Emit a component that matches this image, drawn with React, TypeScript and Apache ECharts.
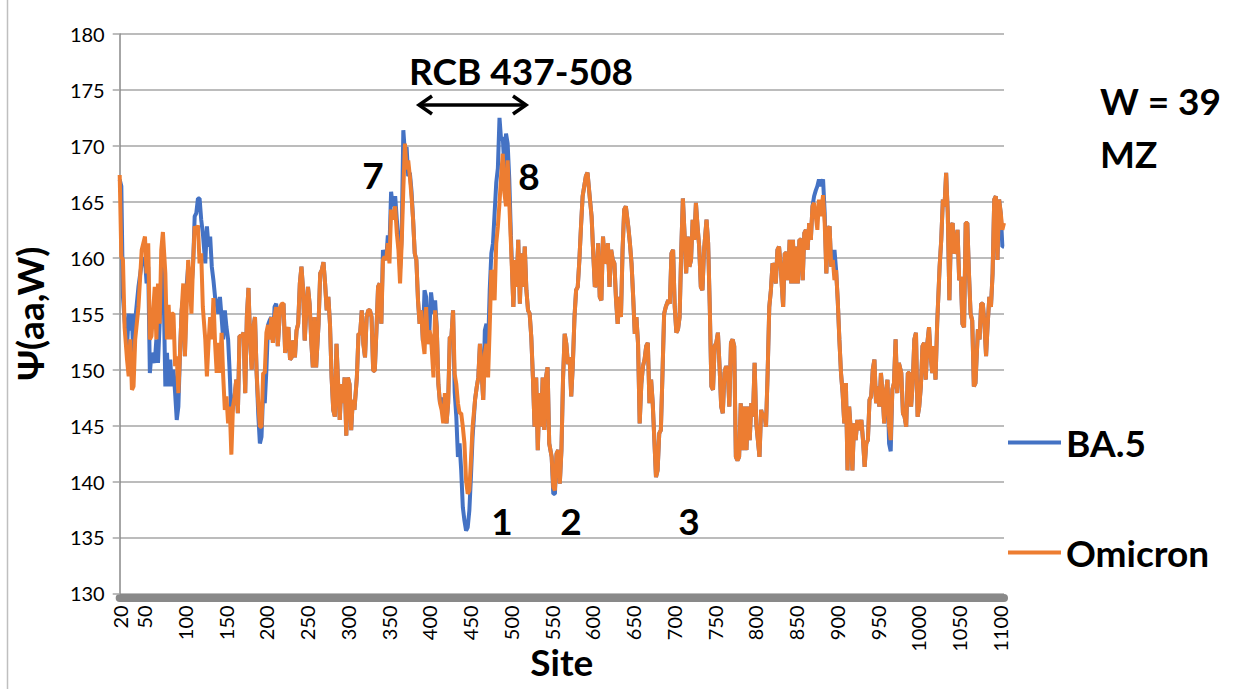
import React, { useEffect, useRef } from 'react';
import * as echarts from 'echarts';

// Site positions (x values), segment by segment
const sitesA = [20,22,24,26,29,31,33,35,37,39,43,47,51,53,55,57,59,
63,65,67,69,71,73,76,78,80,82,84,86,88,90,92,94,96,98,100,102,104,106,108,110,112,114,116,118,120,122,125,127,129,131,133,135,137,139,141,143,145,147,149,151,153,155,157,159,161,163,165,167,170,172,174,176,178,180,182,184,186,188,190,192,194,196,198,200,202,204,206,208,210,212,214,217,219,221,223,225,227,229];
const sitesB = [231,233,235,237,239,241,243,245,247,249,
251,253,255,257,259,261,264,266,268,270,
272,274,276,278,280,282,284,286,288,290,
292,294,296,298,300,302,304,306,308,311,
313,315,317,319,321,323,325,327,329,331,
333,335,337,339,341,343,345,347,349,351,
353,355,358,360,362,364,366,368,370,372,
374,376,378,380,382,384,386,388,390,392,
394,396,398,400,402,405,407,409,411,413,
415,417,419,421,423,425,427,429,431,433,
435,437,439,441,443,445,447];
const sitesC = [449,451,453,456,458,460,462,464,466,468,
470,472,474,476,478,480,482,484,486,488,
490,492,494,496,498,500,503,505,507,509,
511,513,515,517,519,521,523,525,527,529,
531,533,535,537,539,541,543,545,547,550,
552,554,556,558,560,562,564,566,568,570,
572,574,576,578,580,582,584,586,588,590,
592,594,597,599,601,603,605,607,609,611,
613,615,617,619,621,623,625,627,629,631,
633,635,637,639,641,644,646,648,650,652,
654,656,658,660];
const sitesD = [662,664,666,668,670,672,674,676,678,680,
682,684,686,688,690,693,695,697,699,701,
703,705,707,709,711,713,715,717,719,721,
723,725,727,729,731,733,735,737,740,742,
744,746,748,750,752,754,756,758,760,762,
764,766,768,770,772,774,776,778,780,782,
784,787,789,791,793,795,797,799,801,803,
805,807,809,811,813,815,817,819,821,823,
825,827,829,831,834,836,838,840,842,844,
846,848,850,852,854,856,858,860,862,864,
866,868,870,872,874];
const sitesE = [876,878,880,883,885,887,889,891,893,895,
897,899,901,903,905,907,909,911,913,915,
917,919,921,923,925,927,930,932,934,936,
938,940,942,944,946,948,950,952,954,956,
958,960,962,964,966,968,970,972,974,976,
979,981,983,985,987,989,991,993,995,997,
999,1001,1003,1005,1007,1009,1011,1013,1015,1017,
1019,1021,1023,1026,1028,1030,1032,1034,1036,1038,
1040,1042,1044,1046,1048,1050,1052,1054,1056,1058,
1060,1062,1064,1066,1068,1070,1073,1075,1077,1079,
1081,1083,1085,1087,1089,1091,1093,1095,1097,1099,
1101,1103,1105];

// Omicron Ψ(aa,W)
const omicronA = [167.4,160.1,159.8,153.8,150.9,149.4,152.7,148.2,148.5,152.7,155.6,160.7,161.9,158.6,161.3,152.7,153.0,
157.4,152.7,157.7,154.1,160.7,162.3,158.6,152.7,155.8,152.7,
155.0,155.0,150.3,151.2,147.9,151.5,155.3,157.7,151.2,155.3,
159.8,158.0,155.0,159.5,162.8,162.5,162.9,159.5,160.4,155.6,
152.7,149.4,152.4,154.7,152.7,156.4,152.4,149.7,152.4,149.7,
153.3,149.4,146.4,147.6,145.2,146.7,142.4,146.7,147.6,149.1,
146.1,153.0,153.0,153.3,147.9,154.7,157.3,152.7,150.0,153.8,
154.7,149.7,147.0,144.9,144.9,149.7,149.7,153.3,154.0,152.7,
154.7,152.4,154.7,155.6,152.1,155.6,155.9,155.9,151.5,153.3,
153.8,150.9];
const omicronB = [151.1,152.6,151.1,153.5,154.1,157.7,159.2,157.1,152.6,155.3,
157.4,155.9,152.6,150.2,154.7,150.2,154.1,158.6,158.9,159.6,
157.7,155.3,156.5,154.1,149.3,146.4,145.8,152.3,148.7,145.5,
148.7,147.0,149.3,144.1,149.3,148.7,144.6,147.3,146.4,149.3,
153.2,153.2,155.3,152.3,151.1,154.7,155.3,155.3,154.7,149.9,
149.9,153.5,157.4,157.7,154.1,159.8,160.1,159.8,161.3,159.5,
164.3,163.4,164.6,162.2,160.7,157.7,161.3,166.1,170.2,167.9,
168.7,167.3,165.5,163.4,160.4,159.8,156.2,154.1,155.3,152.6,
151.4,155.6,152.3,153.5,152.9,149.3,155.3,153.8,148.7,147.0,
146.4,145.2,147.9,145.2,147.0,152.9,152.9,155.3,149.6,148.7,
147.0,146.1,146.1,144.9,143.4,140.1,138.9];
const omicronC = [139.2,141.9,144.9,147.3,148.4,149.3,152.3,149.9,147.3,151.4,
152.3,149.3,153.8,158.9,158.3,156.2,161.3,162.8,164.9,167.3,
169.3,165.8,164.6,168.7,164.9,161.3,155.6,159.8,157.4,161.6,
155.9,160.4,157.4,161.0,157.1,155.3,155.0,152.9,149.3,144.9,
149.3,142.8,147.9,144.9,149.3,144.6,149.3,150.2,143.4,142.2,
139.5,139.2,142.5,142.8,139.8,142.8,149.3,153.2,152.3,150.5,
151.1,147.6,150.5,154.7,157.1,157.4,159.8,162.8,165.5,166.4,
167.3,167.6,165.2,163.7,160.4,157.4,157.7,161.3,156.5,156.2,
161.9,159.5,159.8,161.3,157.4,160.7,159.8,159.5,156.2,154.1,
156.5,154.7,160.7,164.3,164.6,162.8,161.3,159.5,156.5,153.2,
154.7,152.3,145.2,148.7];
const omicronD = [150.3,150.9,152.1,152.4,147.0,149.1,147.0,143.7,140.4,141.0,
144.3,144.6,149.7,155.0,155.6,156.2,155.9,160.4,160.7,155.6,
153.3,153.6,154.7,160.7,165.3,162.2,158.6,161.9,159.2,159.8,
163.4,161.6,164.9,162.8,161.0,157.4,157.1,160.7,163.4,161.3,
155.6,148.5,148.2,152.1,152.4,153.3,150.3,146.7,146.1,149.7,
150.3,150.0,146.7,152.4,152.7,152.1,142.2,141.9,142.2,147.0,
142.8,146.7,142.8,146.7,143.7,147.0,145.8,150.6,145.2,143.7,
142.2,146.4,145.8,146.1,144.9,149.7,155.6,157.1,159.5,159.2,
157.7,160.7,161.0,159.2,155.6,160.4,160.4,158.0,161.6,157.7,
161.6,157.7,161.0,157.7,161.6,161.6,158.0,162.2,162.5,160.7,
163.1,161.6,164.6,164.9,163.7];
const omicronE = [162.5,165.2,163.7,165.6,163.1,158.6,162.5,162.8,159.2,159.8,
158.0,158.9,156.2,152.7,149.7,147.9,145.2,148.8,141.0,146.7,
144.6,141.0,145.2,143.7,145.5,144.6,145.5,143.7,141.3,143.4,
143.7,147.3,147.6,150.0,150.9,147.0,148.5,146.7,149.7,147.9,
145.2,147.9,149.1,144.9,143.7,148.2,148.8,152.7,147.9,150.6,
149.7,146.1,145.8,144.9,149.7,149.7,146.7,148.8,152.7,153.3,
145.8,146.7,148.5,152.1,152.4,149.1,152.4,153.8,151.2,149.7,
152.1,149.1,154.1,159.2,161.6,165.2,164.6,167.6,164.0,156.2,
162.8,163.1,160.4,160.7,162.5,158.0,158.3,154.1,153.8,163.1,
163.1,158.6,155.0,154.4,148.5,148.8,153.6,152.7,155.9,155.9,
154.1,151.2,154.1,156.5,155.6,158.6,165.2,165.5,159.8,165.2,
164.0,162.5,163.1];

// BA.5 Ψ(aa,W)
const ba5A = [167.0,166.4,156.5,154.4,152.0,155.0,153.5,155.0,150.3,154.4,157.4,159.5,160.0,157.7,159.2,149.7,151.5,
150.6,152.7,150.6,154.1,158.0,161.0,148.5,151.5,148.5,150.9,
148.5,150.0,147.9,145.5,146.7,151.5,155.3,156.5,151.2,157.4,
159.2,158.6,157.4,159.2,163.7,164.0,165.3,165.3,163.4,162.2,
159.5,162.8,161.0,161.9,159.2,158.0,156.5,155.9,155.0,156.5,
154.7,152.7,155.3,153.8,152.7,149.7,145.8,146.7,147.6,149.1,
146.1,153.0,153.0,153.3,147.9,154.7,157.3,152.7,150.0,153.8,
154.7,149.7,146.0,143.4,144.0,148.0,147.0,150.0,154.0,154.4,
154.7,152.4,155.6,155.9,152.1,155.6,155.3,155.9,151.5,152.4,
153.8,150.9];
const ba5B = [151.1,152.6,151.1,153.5,154.1,157.7,159.2,157.1,152.6,155.3,
157.4,155.9,152.6,150.2,154.7,150.2,154.1,158.6,158.9,159.6,
157.7,155.3,156.5,154.1,149.3,146.4,145.8,152.3,148.7,145.5,
148.7,147.0,149.3,144.1,149.3,148.7,144.6,147.3,146.4,149.3,
153.2,153.2,155.3,152.3,151.1,154.7,155.3,155.3,154.7,149.9,
149.9,153.5,157.4,157.7,154.1,160.7,160.1,159.8,162.0,161.0,
165.9,164.6,165.5,163.4,161.6,159.0,161.9,171.4,169.3,169.9,
167.3,167.6,166.0,163.4,160.4,159.8,156.2,154.1,155.3,152.6,
157.1,156.5,152.3,153.5,156.9,155.0,156.2,153.8,148.7,147.0,
147.5,146.5,147.0,145.2,147.0,152.9,152.9,155.3,148.0,145.8,
142.2,143.4,141.0,137.7,136.5,135.6,135.9];
const ba5C = [137.4,140.5,144.0,147.3,148.4,149.3,152.3,149.9,147.3,153.5,
154.1,152.0,157.1,160.4,161.3,164.0,166.7,168.0,172.5,170.5,
170.8,168.0,171.1,170.2,167.0,162.0,155.6,159.8,157.4,161.6,
155.9,160.4,157.4,161.0,157.1,155.3,155.0,152.9,149.3,144.9,
149.3,142.8,147.9,144.9,149.3,144.6,149.3,150.2,143.4,142.2,
138.9,138.9,142.5,142.8,139.8,142.8,149.3,153.2,152.3,150.5,
151.1,147.6,150.5,154.7,157.1,157.4,159.8,162.8,165.5,166.4,
167.3,167.6,165.2,163.7,160.4,157.4,157.7,161.3,156.5,156.2,
161.9,159.5,159.8,161.3,157.4,160.7,159.8,159.5,156.2,154.1,
156.5,154.7,160.7,164.3,164.6,162.8,161.3,159.5,156.5,153.2,
154.7,152.3,145.2,148.7];
const ba5D = [150.3,150.9,152.1,152.4,147.0,149.1,147.0,143.7,140.4,141.0,
144.3,144.6,149.7,155.0,155.6,156.2,155.9,160.4,160.7,155.6,
153.3,153.6,154.7,160.7,165.3,162.2,158.6,161.9,159.2,159.8,
163.4,161.6,164.9,162.8,161.0,157.4,157.1,160.7,163.4,161.3,
155.6,148.5,148.2,152.1,152.4,153.3,150.3,146.7,146.1,149.7,
150.3,150.0,146.7,152.4,152.7,152.1,142.2,141.9,142.2,147.0,
142.8,146.7,142.8,146.7,143.7,147.0,145.8,150.6,145.2,143.7,
142.2,146.4,145.8,146.1,144.9,149.7,155.6,157.1,159.5,159.2,
157.7,160.7,161.0,159.2,155.6,160.4,160.4,158.0,161.6,157.7,
161.6,157.7,161.0,157.7,161.6,161.6,158.0,162.2,162.5,160.7,
163.1,161.6,164.6,165.5,166.0];
const ba5E = [166.4,167.0,166.4,167.0,164.0,158.6,162.5,162.8,159.2,159.8,
160.7,158.9,156.2,152.7,149.7,147.9,145.2,148.8,141.0,146.7,
144.6,141.0,145.2,143.7,145.5,144.6,145.5,143.7,141.3,143.4,
143.7,147.3,147.6,150.0,150.9,147.0,148.5,146.7,149.7,147.9,
145.2,147.9,149.1,143.4,142.7,148.2,148.8,152.7,147.9,150.6,
149.7,146.1,145.8,144.9,149.7,149.7,146.7,148.8,152.7,153.3,
145.8,146.7,148.5,152.1,152.4,149.1,152.4,153.8,151.2,149.7,
152.1,149.1,154.1,159.2,161.6,165.2,164.6,167.6,164.0,156.2,
162.8,163.1,160.4,160.7,162.5,158.0,158.3,154.1,153.8,163.1,
163.1,158.6,155.0,154.4,148.5,148.8,153.6,152.7,155.9,155.9,
154.1,151.2,154.1,156.5,155.6,158.6,165.2,165.5,159.8,165.2,
164.0,161.0,161.0];

const xTickLabels = [20,50,100,150,200,250,300,350,400,450,500,550,600,650,700,750,800,850,900,950,1000,1050,1100];
const seriesNames = ['BA.5', 'Omicron'];
const annotations = [
  { text: 'RCB 437-508', x: 521, y: 70 },
  { text: '7', x: 373, y: 174 },
  { text: '8', x: 529, y: 175 },
  { text: '1', x: 502, y: 520 },
  { text: '2', x: 571, y: 520 },
  { text: '3', x: 689, y: 520 },
];

const FONT = 'Lato, "Open Sans", sans-serif';

export default function App() {
  const ref = useRef<HTMLDivElement>(null);
  useEffect(() => {
    if (!ref.current) return;
    const chart = echarts.init(ref.current, undefined, { renderer: 'svg' });
    const sites = [...sitesA, ...sitesB, ...sitesC, ...sitesD, ...sitesE];
    const omicron = [...omicronA, ...omicronB, ...omicronC, ...omicronD, ...omicronE];
    const ba5 = [...ba5A, ...ba5B, ...ba5C, ...ba5D, ...ba5E];
    const ba5Data = sites.map((s, i) => [s, ba5[i]]);
    const omiData = sites.map((s, i) => [s, omicron[i]]);
    const boldText = { fontFamily: FONT, fontWeight: 'bold', fontSize: 37, color: '#000' };
    const legendBase = {
      orient: 'vertical',
      icon: 'rect',
      itemWidth: 53,
      itemHeight: 4,
      itemGap: 0,
      selectedMode: false,
      textStyle: { fontFamily: FONT, fontWeight: 'bold', fontSize: 37, color: '#000' },
    };
    chart.setOption({
      animation: false,
      backgroundColor: '#fff',
      grid: { left: 119.7, right: 245, top: 34, bottom: 95.6, containLabel: false, outerBoundsMode: 'none' },
      legend: [
        { ...legendBase, data: [seriesNames[0]], left: 1003, top: 419 },
        { ...legendBase, data: [seriesNames[1]], left: 1003, top: 529 },
      ],
      xAxis: {
        type: 'value',
        min: 20,
        max: 1105,
        offset: 4,
        name: 'Site',
        nameLocation: 'middle',
        nameGap: 46,
        nameMoveOverlap: false,
        nameTextStyle: { fontFamily: FONT, fontWeight: 'bold', fontSize: 37, color: '#000' },
        axisLine: { show: true, onZero: false, lineStyle: { color: '#898989', width: 8 } },
        axisTick: { show: false },
        splitLine: { show: false },
        axisLabel: {
          customValues: xTickLabels,
          rotate: 90,
          margin: 8,
          fontFamily: FONT,
          fontSize: 20,
          color: '#000',
          formatter: (v: number) => String(v),
        },
      },
      yAxis: {
        type: 'value',
        min: 130,
        max: 180,
        interval: 5,
        name: 'Ψ(aa,W)',
        nameLocation: 'middle',
        nameRotate: 90,
        nameGap: 72,
        nameTextStyle: { fontFamily: FONT, fontWeight: 'bold', fontSize: 37, color: '#000' },
        axisLine: { show: true, lineStyle: { color: '#898989', width: 1.5 } },
        axisTick: { show: true, length: 7, lineStyle: { color: '#A6A6A6', width: 1.5 } },
        splitLine: { show: true, lineStyle: { color: '#A6A6A6', width: 1.5 } },
        axisLabel: { margin: 15, fontFamily: FONT, fontSize: 20, color: '#000' },
      },
      series: [
        {
          name: seriesNames[0],
          type: 'line',
          data: ba5Data,
          showSymbol: false,
          symbol: 'none',
          color: '#4472C4',
          lineStyle: { color: '#4472C4', width: 4 },
          z: 2,
        },
        {
          name: seriesNames[1],
          type: 'line',
          data: omiData,
          showSymbol: false,
          symbol: 'none',
          color: '#ED7D31',
          lineStyle: { color: '#ED7D31', width: 4 },
          z: 3,
        },
      ],
      graphic: [
        { type: 'line', shape: { x1: 7.5, y1: 0, x2: 7.5, y2: 689 }, style: { stroke: '#BFBFBF', lineWidth: 1.5 } },
        ...annotations.map((a) => ({
          type: 'text',
          x: a.x,
          y: a.y,
          style: { ...boldText, text: a.text, align: 'center', verticalAlign: 'middle', fill: '#000' },
        })),
        { type: 'line', shape: { x1: 420, y1: 105, x2: 525, y2: 105 }, style: { stroke: '#000', lineWidth: 3.5 } },
        { type: 'polyline', shape: { points: [[432, 96], [419, 105], [432, 114]] }, style: { stroke: '#000', lineWidth: 3.5, fill: 'none' } },
        { type: 'polyline', shape: { points: [[513, 96], [526, 105], [513, 114]] }, style: { stroke: '#000', lineWidth: 3.5, fill: 'none' } },
        {
          type: 'text',
          x: 1100,
          y: 100,
          style: { ...boldText, text: 'W = 39', align: 'left', verticalAlign: 'middle', fill: '#000' },
        },
        {
          type: 'text',
          x: 1100,
          y: 153,
          style: { ...boldText, text: 'MZ', align: 'left', verticalAlign: 'middle', fill: '#000' },
        },
      ],
    });
    return () => chart.dispose();
  }, []);
  return (
    <div
      ref={ref}
      style={{ position: 'fixed', left: 0, top: 0, width: 1249, height: 689, background: '#fff' }}
    />
  );
}
